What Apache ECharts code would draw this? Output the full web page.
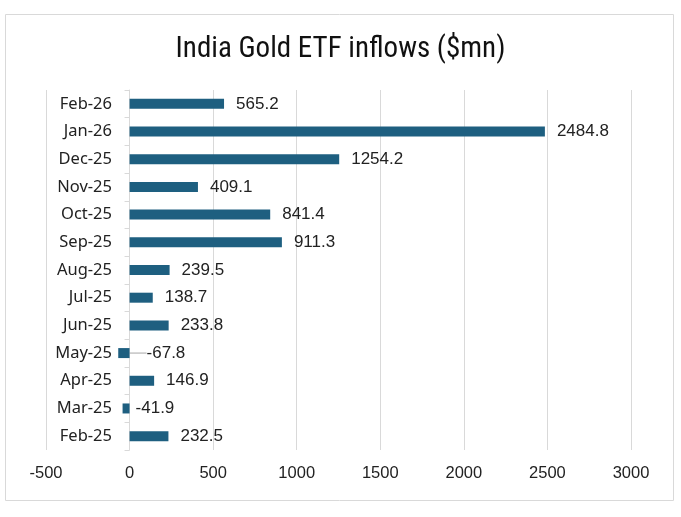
<!DOCTYPE html>
<html>
<head>
<meta charset="utf-8">
<script src="https://cdn.jsdelivr.net/npm/echarts@6/dist/echarts.min.js"></script>
<style>
    html, body { margin: 0; padding: 0; background: #fff; }
    #chart { width: 681px; height: 517px; }
</style>
</head>
<body>
<div id="chart"></div>
<script>
// months, bottom to top as in the picture
const months = ['Feb-25', 'Mar-25', 'Apr-25', 'May-25', 'Jun-25', 'Jul-25', 'Aug-25',
    'Sep-25', 'Oct-25', 'Nov-25', 'Dec-25', 'Jan-26', 'Feb-26'];
const inflows = [232.5, -41.9, 146.9, -67.8, 233.8, 138.7, 239.5,
    911.3, 841.4, 409.1, 1254.2, 2484.8, 565.2];

const chart = echarts.init(document.getElementById('chart'));

const labelFont = '"Liberation Sans", Arial, sans-serif';

chart.setOption({
    animation: false,
    title: {
        text: 'India Gold ETF inflows ($mn)',
        left: 'center',
        top: 30,
        textStyle: {
            fontFamily: '"Liberation Sans Narrow", "Roboto Condensed", Roboto, sans-serif',
            fontWeight: 'normal',
            fontSize: 29,
            color: '#111'
        }
    },
    graphic: [
        {
            type: 'rect',
            shape: { x: 5.5, y: 14.5, width: 668, height: 486 },
            style: { fill: 'none', stroke: '#d9d9d9', lineWidth: 1 },
            silent: true
        }
    ],
    grid: {
        left: 46,
        right: 50,
        top: 90,
        bottom: 67,
        outerBoundsMode: 'none',
        containLabel: false
    },
    xAxis: {
        type: 'value',
        min: -500,
        max: 3000,
        interval: 500,
        axisLine: { show: false },
        axisTick: { show: false },
        splitLine: { lineStyle: { color: '#d9d9d9' } },
        axisLabel: {
            margin: 15,
            color: '#222',
            fontSize: 16.5,
            fontFamily: labelFont,
            formatter: v => String(v)
        }
    },
    yAxis: {
        type: 'category',
        data: months,
        axisLine: { onZero: true, lineStyle: { color: '#d9d9d9' } },
        axisTick: { show: true, length: 5, lineStyle: { color: '#d9d9d9' } },
        axisLabel: {
            // labels sit just left of the zero line, like Excel does
            margin: -66,
            color: '#222',
            fontSize: 16.5,
            fontFamily: '"Noto Sans", "Open Sans", sans-serif'
        }
    },
    series: [
        {
            type: 'bar',
            data: inflows.map(v => ({
                value: v,
                label: { position: v < 0 ? 'insideLeft' : 'right' },
                labelLine: { show: v < -50 }
            })),
            barWidth: 10,
            itemStyle: { color: '#1e5f80' },
            label: {
                show: true,
                distance: 12,
                color: '#222',
                fontSize: 17,
                fontFamily: labelFont,
                formatter: p => p.value.toFixed(1)
            },
            labelLine: {
                show: false,
                lineStyle: { color: '#a6a6a6', width: 1 }
            },
            labelLayout: p => {
                const v = inflows[p.dataIndex];
                if (v < 0) {
                    // negative labels are pushed right of the axis
                    const dx = v < -50 ? 17 : 6;
                    return { x: p.rect.x + p.rect.width + dx, y: p.labelRect.y + p.labelRect.height / 2, verticalAlign: 'middle', align: 'left' };
                }
                return {};
            }
        }
    ]
});

window.addEventListener('resize', () => chart.resize());
</script>
</body>
</html>
